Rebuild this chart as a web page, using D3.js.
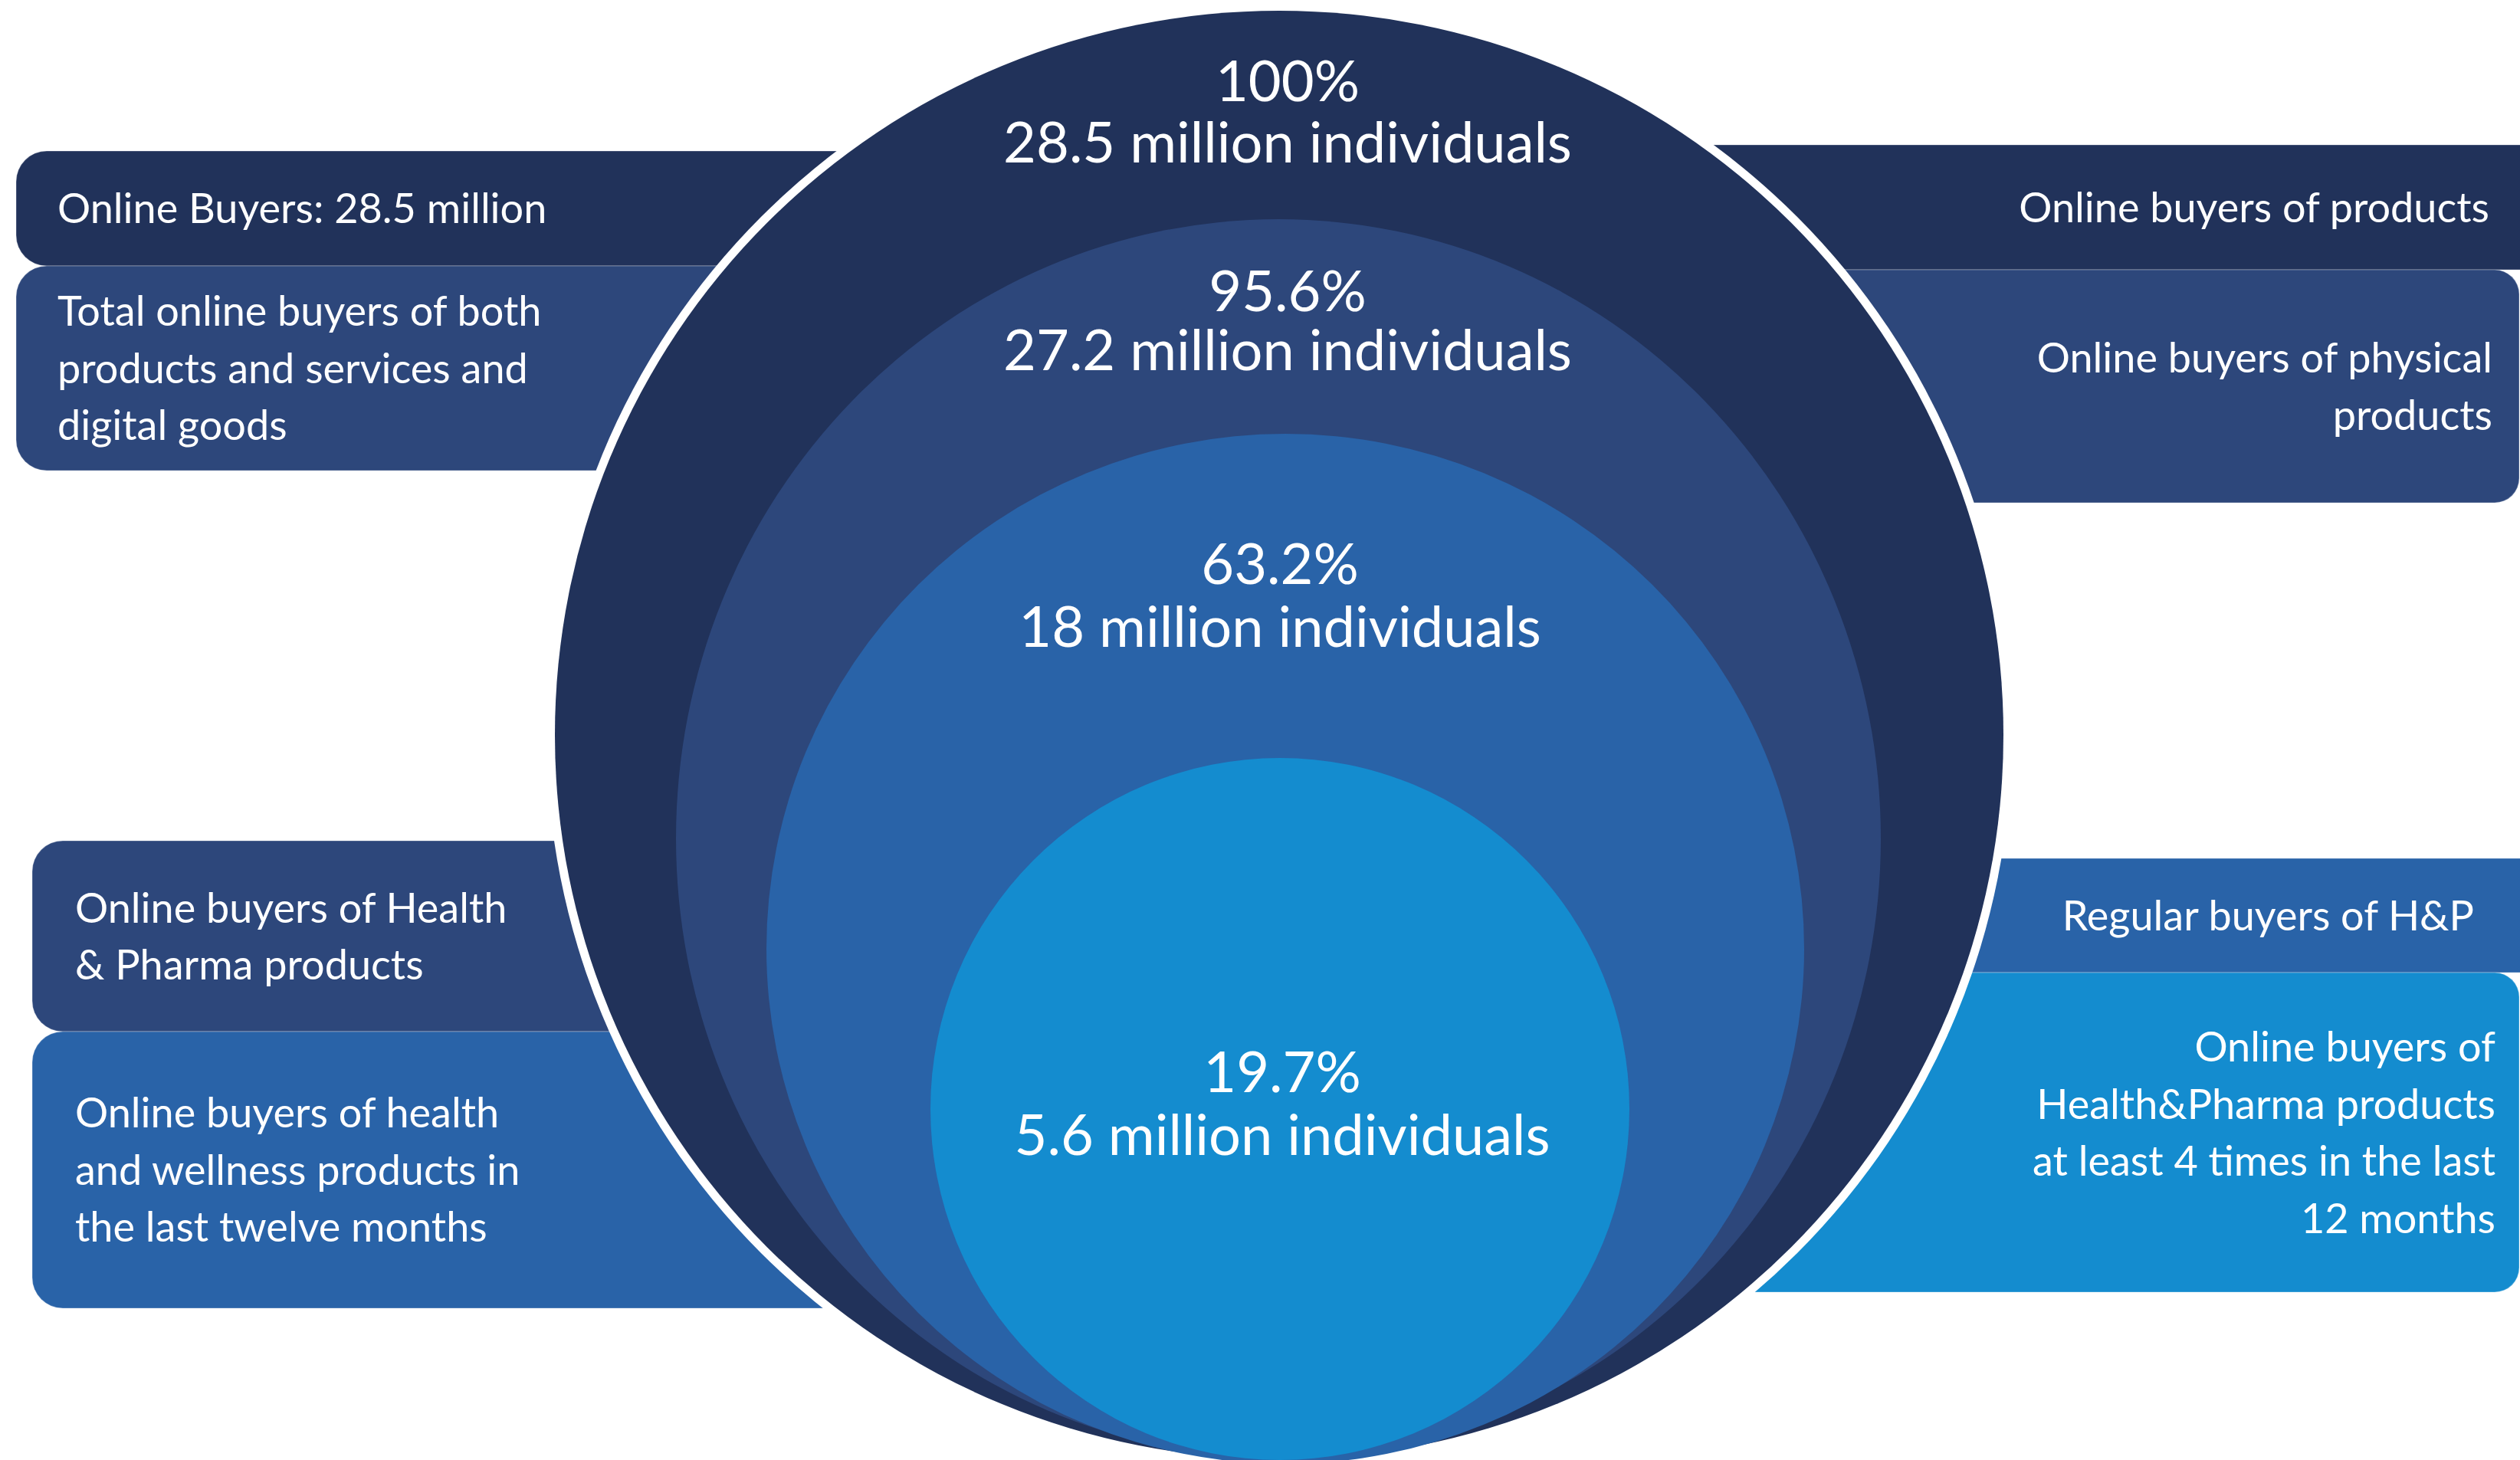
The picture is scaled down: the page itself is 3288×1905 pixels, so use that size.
<!DOCTYPE html>
<html>
<head>
<meta charset="utf-8">
<script src="https://cdn.jsdelivr.net/npm/d3@7"></script>
<style>
  html, body { margin: 0; padding: 0; background: #ffffff; }
  svg { display: block; }
  text { font-family: Lato, "Open Sans", sans-serif; fill: #ffffff; }
</style>
</head>
<body>
<svg id="chart" width="3288" height="1905"></svg>
<script>
// ---- data ----
const segments = ["online", "products", "healthPharma", "regular"];
const shares = [100, 95.6, 63.2, 19.7];            // % of online buyers
const individuals = [28.5, 27.2, 18, 5.6];          // millions of people
const leftLabels = [
  ["Online Buyers: 28.5 million"],
  ["Total online buyers of both", "products and services and", "digital goods"],
  ["Online buyers of Health", "& Pharma products"],
  ["Online buyers of health", "and wellness products in", "the last twelve months"]
];
const rightLabels = [
  ["Online buyers of products"],
  ["Online buyers of physical", "products"],
  ["Regular buyers of H&P"],
  ["Online buyers of", "Health&Pharma products", "at least 4 times in the last", "12 months"]
];

// ---- layout ----
const W = 3288, H = 1905;
const palette = ["#21325a", "#2d477b", "#2963a8", "#148ccf"];
const ringGeom = [                       // nested rings, outermost first
  { cx: 1669, cy: 959, rx: 945, ry: 945 },
  { cx: 1668, cy: 1094, rx: 786, ry: 808 },
  { cx: 1677, cy: 1238, rx: 677, ry: 672 },
  { cx: 1670, cy: 1447, rx: 456, ry: 458 }
];
const ringTextY = [[132, 212], [406, 483], [762, 844], [1425, 1507]];
const ringTextX = [1680, 1680, 1670, 1673];

// label bands: [top, bottom] and horizontal extent
const leftBands = [
  { y0: 197, y1: 347, x0: 21, color: palette[0], tx: 75 },
  { y0: 347, y1: 614, x0: 21, color: palette[1], tx: 75 },
  { y0: 1097, y1: 1346, x0: 42, color: palette[1], tx: 98 },
  { y0: 1346, y1: 1707, x0: 42, color: palette[2], tx: 98 }
];
const rightBands = [
  { y0: 189, y1: 352, x1: 3330, color: palette[0], tx: 3248 },
  { y0: 352, y1: 656, x1: 3287, color: palette[1], tx: 3252 },
  { y0: 1120, y1: 1269, x1: 3330, color: palette[2], tx: 3228 },
  { y0: 1269, y1: 1686, x1: 3287, color: palette[3], tx: 3256 }
];
const bandFont = 54, bandLine = 74.5;
const ringFont = 74;

const color = d3.scaleOrdinal().domain(segments).range(palette);
const svg = d3.select("#chart");

// rectangle with rounded corners on one side only
function sideRoundedRect(x0, y0, x1, y1, r, side) {
  const p = d3.path();
  if (side === "left") {
    p.moveTo(x1, y0);
    p.lineTo(x0 + r, y0);
    p.arcTo(x0, y0, x0, y0 + r, r);
    p.lineTo(x0, y1 - r);
    p.arcTo(x0, y1, x0 + r, y1, r);
    p.lineTo(x1, y1);
  } else {
    p.moveTo(x0, y0);
    p.lineTo(x1 - r, y0);
    p.arcTo(x1, y0, x1, y0 + r, r);
    p.lineTo(x1, y1 - r);
    p.arcTo(x1, y1, x1 - r, y1, r);
    p.lineTo(x0, y1);
  }
  p.closePath();
  return p.toString();
}

// ---- side bands (sit behind the rings) ----
const bands = svg.append("g").attr("class", "bands");
bands.selectAll("path.left")
  .data(leftBands)
  .join("path")
  .attr("class", "left")
  .attr("d", d => sideRoundedRect(d.x0, d.y0, 1669, d.y1, 40, "left"))
  .attr("fill", d => d.color)
  .attr("stroke", "rgba(255,255,255,0.22)")
  .attr("stroke-width", 1.5);

bands.selectAll("path.right")
  .data(rightBands)
  .join("path")
  .attr("class", "right")
  .attr("d", d => sideRoundedRect(1669, d.y0, d.x1, d.y1, 32, "right"))
  .attr("fill", d => d.color)
  .attr("stroke", "rgba(255,255,255,0.22)")
  .attr("stroke-width", 1.5);

// ---- nested rings ----
const rings = svg.append("g").attr("class", "rings");
// white halo separating the outer ring from the bands
rings.append("ellipse")
  .attr("cx", ringGeom[0].cx).attr("cy", ringGeom[0].cy)
  .attr("rx", ringGeom[0].rx + 11).attr("ry", ringGeom[0].ry + 11)
  .attr("fill", "#ffffff");

rings.selectAll("ellipse.ring")
  .data(segments)
  .join("ellipse")
  .attr("class", "ring")
  .attr("cx", (d, i) => ringGeom[i].cx)
  .attr("cy", (d, i) => ringGeom[i].cy)
  .attr("rx", (d, i) => ringGeom[i].rx)
  .attr("ry", (d, i) => ringGeom[i].ry)
  .attr("fill", d => color(d));

// ring value labels
const ringLabels = svg.append("g").attr("class", "ring-labels")
  .selectAll("text")
  .data(segments)
  .join("text")
  .attr("text-anchor", "middle")
  .style("font-size", ringFont + "px");
ringLabels.append("tspan")
  .attr("x", (d, i) => ringTextX[i])
  .attr("y", (d, i) => ringTextY[i][0])
  .text((d, i) => `${shares[i]}%`);
ringLabels.append("tspan")
  .attr("x", (d, i) => ringTextX[i])
  .attr("y", (d, i) => ringTextY[i][1])
  .text((d, i) => `${individuals[i]} million individuals`);

// ---- band labels ----
function bandText(sel, bandsData, labels, anchor) {
  sel.selectAll("text")
    .data(bandsData)
    .join("text")
    .attr("text-anchor", anchor)
    .style("font-size", bandFont + "px")
    .each(function (d, i) {
      const lines = labels[i];
      const mid = (d.y0 + d.y1) / 2;
      const first = mid - (lines.length - 1) * bandLine / 2 + bandFont * 0.36;
      d3.select(this).selectAll("tspan")
        .data(lines)
        .join("tspan")
        .attr("x", d.tx)
        .attr("y", (l, j) => first + j * bandLine)
        .text(l => l);
    });
}
bandText(svg.append("g").attr("class", "left-labels"), leftBands, leftLabels, "start");
bandText(svg.append("g").attr("class", "right-labels"), rightBands, rightLabels, "end");
</script>
</body>
</html>
